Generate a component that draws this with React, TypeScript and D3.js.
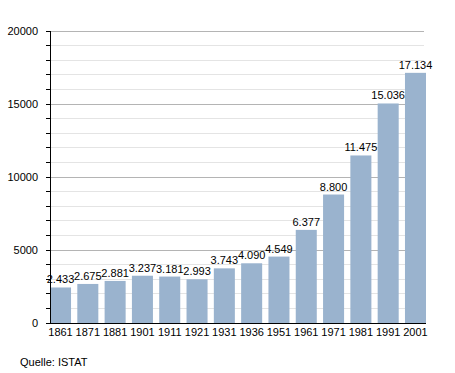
import React, { useEffect, useRef } from 'react';
import * as d3 from 'd3';

const years = ['1861', '1871', '1881', '1901', '1911', '1921', '1931', '1936', '1951', '1961', '1971', '1981', '1991', '2001'];
const population = [2433, 2675, 2881, 3237, 3181, 2993, 3743, 4090, 4549, 6377, 8800, 11475, 15036, 17134];
const majorTicks = [0, 5000, 10000, 15000, 20000];

const App = () => {
  const svgRef = useRef<SVGSVGElement>(null);

  useEffect(() => {
    const svg = d3.select(svgRef.current);
    svg.selectAll('*').remove();

    const left = 50, right = 426, top = 31, bottom = 323;
    const font = 'Liberation Sans, Arial, sans-serif';

    const x = d3.scaleBand().domain(years).range([left, right]).paddingInner(0.23).paddingOuter(0).align(0);
    const y = d3.scaleLinear().domain([0, 20000]).range([bottom, top]);

    const minor = d3.range(0, 20001, 1000);

    // gridlines
    svg.append('g')
      .selectAll('line')
      .data(minor.filter(v => v > 0))
      .join('line')
      .attr('x1', left).attr('x2', right - 2)
      .attr('y1', d => y(d)).attr('y2', d => y(d))
      .attr('stroke', d => (d % 5000 === 0 ? '#b4b4b4' : '#e4e4e4'))
      .attr('stroke-width', 1)
      .attr('shape-rendering', 'crispEdges');

    // minor ticks on axis
    svg.append('g')
      .selectAll('line')
      .data(minor)
      .join('line')
      .attr('x1', left - 4).attr('x2', left)
      .attr('y1', d => y(d)).attr('y2', d => y(d))
      .attr('stroke', '#000')
      .attr('shape-rendering', 'crispEdges');

    // bars
    svg.append('g')
      .selectAll('rect')
      .data(population)
      .join('rect')
      .attr('x', (d, i) => x(years[i])!)
      .attr('y', d => y(d))
      .attr('width', x.bandwidth())
      .attr('height', d => y(0) - y(d))
      .attr('fill', '#9ab3ce');

    // value labels
    svg.append('g')
      .selectAll('text')
      .data(population)
      .join('text')
      .attr('x', (d, i) => x(years[i])! + x.bandwidth() / 2)
      .attr('y', d => y(d) - 4)
      .attr('text-anchor', 'middle')
      .style('font-family', font)
      .style('font-size', '11px')
      .text(d => d3.format(',')(d).replace(',', '.'));

    // axes lines
    svg.append('line')
      .attr('x1', left).attr('x2', left).attr('y1', top).attr('y2', bottom)
      .attr('stroke', '#000').attr('shape-rendering', 'crispEdges');
    svg.append('line')
      .attr('x1', left).attr('x2', right).attr('y1', bottom).attr('y2', bottom)
      .attr('stroke', '#000').attr('shape-rendering', 'crispEdges');

    // y labels
    svg.append('g')
      .selectAll('text')
      .data(majorTicks)
      .join('text')
      .attr('x', 38)
      .attr('y', d => y(d) + 4)
      .attr('text-anchor', 'end')
      .style('font-family', font)
      .style('font-size', '11px')
      .text(d => d);

    // x labels
    svg.append('g')
      .selectAll('text')
      .data(years)
      .join('text')
      .attr('x', d => x(d)! + x.bandwidth() / 2)
      .attr('y', bottom + 13)
      .attr('text-anchor', 'middle')
      .style('font-family', font)
      .style('font-size', '11px')
      .text(d => d);

    svg.append('text')
      .attr('x', 20)
      .attr('y', 366)
      .style('font-family', font)
      .style('font-size', '11px')
      .text('Quelle: ISTAT');
  }, []);

  return (
    <svg ref={svgRef} width={455} height={373}
      style={{ position: 'absolute', left: 0, top: 0, background: '#fff' }} />
  );
};

export default App;
